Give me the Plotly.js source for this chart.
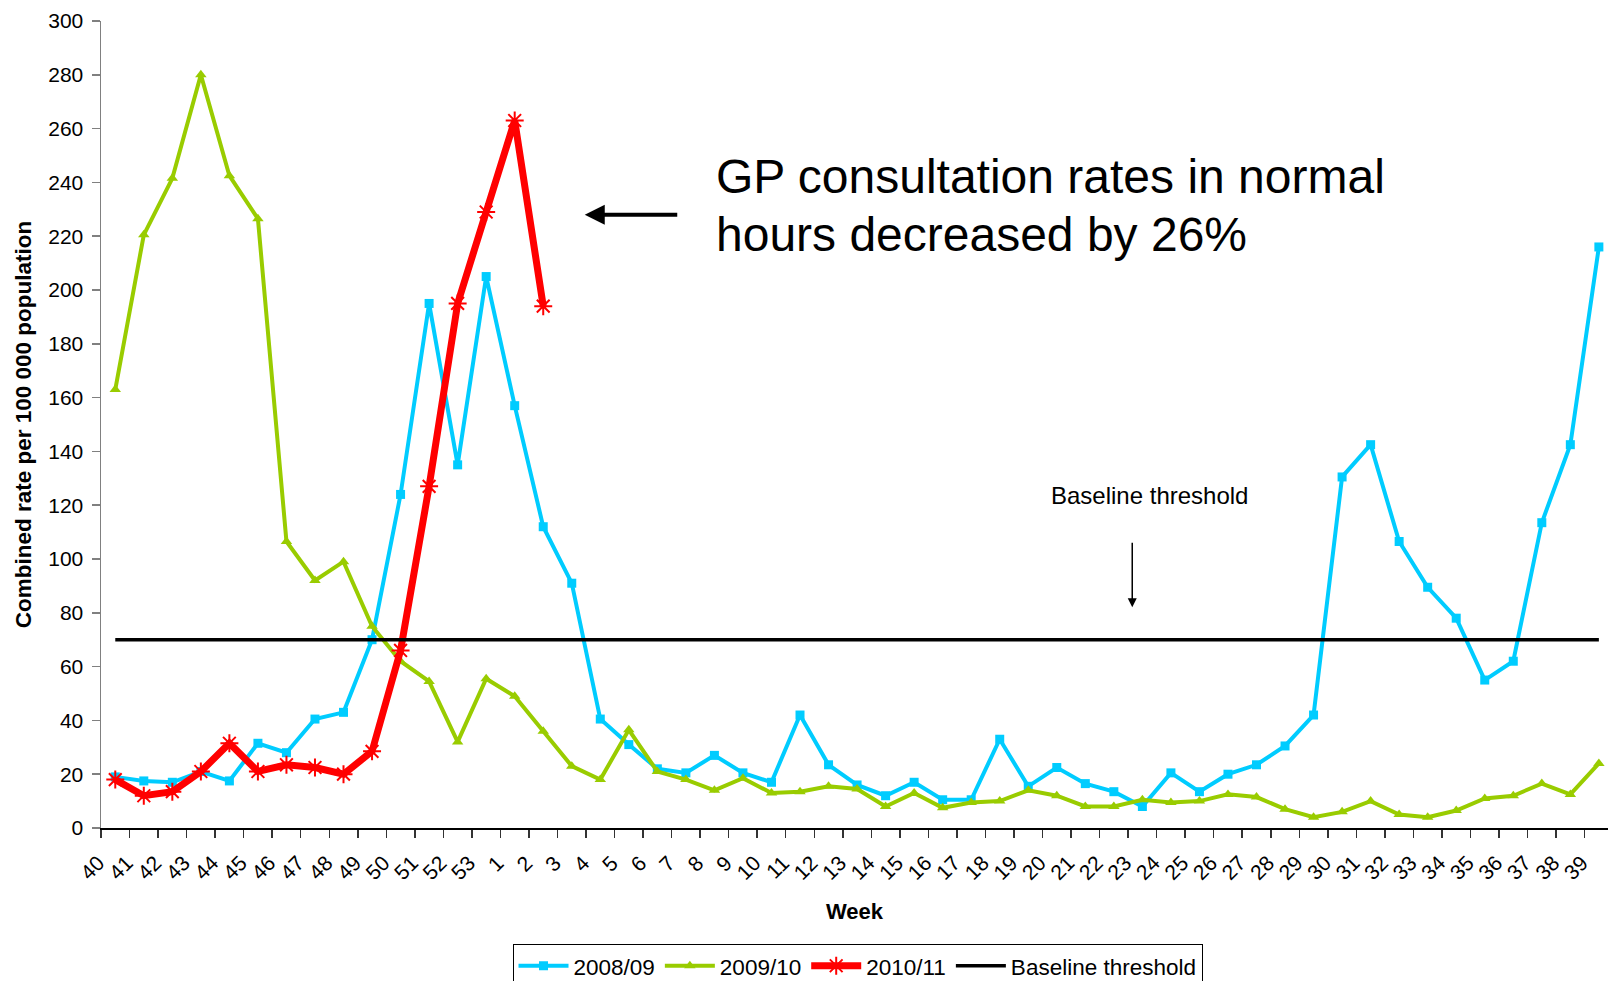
<!DOCTYPE html>
<html>
<head>
<meta charset="utf-8">
<script src="https://cdn.plot.ly/plotly-3.0.1.min.js"></script>
<style>html,body{margin:0;padding:0;background:#fff;}#chart{width:1608px;height:981px;}</style>
</head>
<body>
<div id="chart"></div>
<script>
const weeks = ["40","41","42","43","44","45","46","47","48","49","50","51","52","53",
  "1","2","3","4","5","6","7","8","9","10","11","12","13","14","15","16","17","18","19","20",
  "21","22","23","24","25","26","27","28","29","30","31","32","33","34","35","36","37","38","39"];

const s2008 = [19,17.5,17,21,17.5,31.5,28,40.5,43,70,124,195,135,205,
  157,112,91,40.5,31,22,20.5,27,20.5,17,42,23.5,16,12,17,10.5,10.5,33,15.5,22.5,
  16.5,13.5,8,20.5,13.5,20,23.5,30.5,42,130.5,142.5,106.5,89.5,78,55,62,113.5,142.5,216];

const s2009 = [163,220.5,241.5,280,242.5,226.5,106.5,92,99,75,62,54.5,32,55.5,
  49,36,23,18,36.5,21,18,14,18.5,13,13.5,15.5,14.5,8,13,7.5,9.5,10,14,12,
  8,8,10.5,9.5,10,12.5,11.5,7,4,6,10,5,4,6.5,11,12,16.5,12.5,24];

const weeks2010 = ["40","41","42","43","44","45","46","47","48","49","50","51","52","53","1","2"];
const s2010 = [18,12,13.5,21,31.5,21,23.5,22.5,20,28.5,66,127,195,229,263,194];

const baselineValue = 70;
const baseline = weeks.map(() => baselineValue);

const FONT = "Liberation Sans, Arial, sans-serif";

const traces = [
  {x: weeks, y: s2008, name: "2008/09", type: "scatter", mode: "lines+markers",
   line: {color: "#00CCFF", width: 4}, marker: {symbol: "square", size: 9, color: "#00CCFF"}},
  {x: weeks, y: s2009, name: "2009/10", type: "scatter", mode: "lines+markers",
   line: {color: "#99CC00", width: 4}, marker: {symbol: "triangle-up", size: 10, color: "#99CC00"}},
  {x: weeks2010, y: s2010, name: "2010/11", type: "scatter", mode: "lines+markers",
   line: {color: "#FF0000", width: 7}, marker: {symbol: "asterisk-open", size: 15, color: "#FF0000", line: {color: "#FF0000", width: 2}}},
  {x: weeks, y: baseline, name: "Baseline threshold", type: "scatter", mode: "lines",
   line: {color: "#000000", width: 3.5}}
];

const layout = {
  width: 1608, height: 981,
  margin: {l: 101, r: 0, t: 20.7, b: 152.7, autoexpand: false},
  paper_bgcolor: "#fff", plot_bgcolor: "#fff",
  font: {family: FONT, size: 21, color: "#000"},
  showlegend: true,
  legend: {orientation: "h", x: 0.502, xanchor: "center", y: -0.1433, yanchor: "top",
    bordercolor: "#000", borderwidth: 1, font: {family: FONT, size: 22.5, color: "#000"},
    itemwidth: 50, tracegroupgap: 0},
  xaxis: {type: "category", categoryorder: "array", categoryarray: weeks,
    range: [-0.5, 52.32], showgrid: false, zeroline: false, automargin: false,
    showline: true, linecolor: "#000", linewidth: 1.5,
    ticks: "outside", tickson: "boundaries", ticklen: 8, tickcolor: "#333", tickwidth: 1.5,
    tickangle: -45, tickfont: {family: FONT, size: 21, color: "#000"},
    ticklabelstandoff: 13, ticklabelshift: -17,
    title: {text: "<b>Week</b>", font: {family: FONT, size: 22, color: "#000"}, standoff: 20}},
  yaxis: {range: [0, 300], dtick: 20, tick0: 0, showgrid: false, zeroline: false, automargin: false,
    showline: true, linecolor: "#808080", linewidth: 1.5,
    ticks: "outside", ticklen: 8, tickcolor: "#808080", tickwidth: 1.5,
    tickfont: {family: FONT, size: 21, color: "#000"}, ticklabelstandoff: 4,
    title: {text: "<b>Combined rate per 100 000 population</b>", font: {family: FONT, size: 22.5, color: "#000"}, standoff: 10}},
  annotations: [
    {xref: "paper", yref: "paper", x: 0.407, y: 0.8074, xanchor: "left", yanchor: "middle", align: "left",
     text: "GP consultation rates in normal", showarrow: false,
     font: {family: FONT, size: 48, color: "#000"}},
    {xref: "paper", yref: "paper", x: 0.407, y: 0.7356, xanchor: "left", yanchor: "middle", align: "left",
     text: "hours decreased by 26%", showarrow: false,
     font: {family: FONT, size: 48, color: "#000"}},
    {xref: "paper", yref: "paper", x: 0.321, y: 0.760, text: "", showarrow: true,
     ax: 94, ay: 0, arrowhead: 2, arrowsize: 1, arrowwidth: 4, arrowcolor: "#000"},
    {xref: "paper", yref: "paper", x: 0.696, y: 0.412, xanchor: "center", yanchor: "middle",
     text: "Baseline threshold", showarrow: false, font: {family: FONT, size: 24, color: "#000"}},
    {xref: "paper", yref: "paper", x: 0.6843, y: 0.2734, text: "", showarrow: true,
     ax: 0, ay: -66, arrowhead: 2, arrowsize: 1.2, arrowwidth: 1.5, arrowcolor: "#000"}
  ]
};

Plotly.newPlot("chart", traces, layout, {displayModeBar: false, staticPlot: true});
</script>
</body>
</html>
